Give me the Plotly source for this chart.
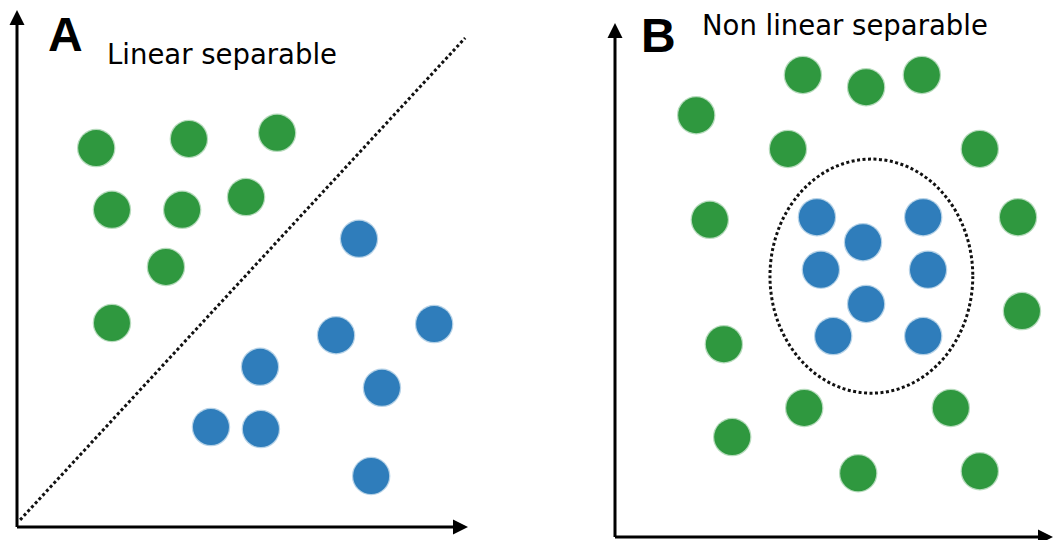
import plotly.graph_objects as go

W, H = 1054, 540

# ---------------- data (panel units 0..10) ----------------
# Panel A - linear separable
a_green_x = [1.76, 3.82, 5.78, 2.11, 3.67, 5.09, 3.31, 2.11]
a_green_y = [7.43, 7.61, 7.73, 6.22, 6.22, 6.47, 5.10, 4.00]
a_blue_x = [7.60, 7.09, 9.27, 5.40, 8.11, 4.31, 5.42, 7.87]
a_blue_y = [5.65, 3.76, 3.98, 3.14, 2.73, 1.96, 1.92, 1.00]
a_sep_x = [0.07, 9.96]
a_sep_y = [0.14, 9.59]

# Panel B - non linear separable
b_green_x = [4.28, 5.72, 6.99, 1.85, 3.94, 8.31, 2.16, 9.18, 9.27, 2.48, 4.31, 7.65, 2.67, 5.54, 8.31]
b_green_y = [9.06, 8.82, 9.06, 8.27, 7.61, 7.61, 6.22, 6.27, 4.43, 3.78, 2.53, 2.53, 1.96, 1.25, 1.29]
b_blue_x = [4.60, 7.02, 5.65, 4.69, 7.13, 5.72, 4.97, 7.02]
b_blue_y = [6.27, 6.27, 5.78, 5.24, 5.24, 4.57, 3.94, 3.94]
b_boundary_x = [3.53, 8.15]   # ellipse x extent
b_boundary_y = [2.82, 7.41]   # ellipse y extent

title_a = ("A", "Linear separable")
title_b = ("B", "Non linear separable")

GREEN = "#2f983f"
BLUE = "#2f7dbb"
GREEN_HALO = "rgba(47,152,63,0.35)"
BLUE_HALO = "rgba(47,125,187,0.35)"

# ---------------- layout geometry (pixels) ----------------
A_left, A_right, A_bottom, A_top = 17, 467, 527, 17
B_left, B_right, B_bottom, B_top = 615, 1054, 537, 27


def dom_x(l, r):
    return [l / W, r / W]


def dom_y(b, t):
    return [1 - b / H, 1 - t / H]


fig = go.Figure()

fig.add_trace(go.Scatter(x=a_sep_x, y=a_sep_y, mode="lines",
                         line=dict(color="#111111", width=3, dash="3px,2.5px"),
                         xaxis="x", yaxis="y", hoverinfo="skip", showlegend=False))
fig.add_trace(go.Scatter(x=a_green_x, y=a_green_y, mode="markers",
                         marker=dict(size=36, color=GREEN, line=dict(width=2.5, color=GREEN_HALO)),
                         xaxis="x", yaxis="y", showlegend=False, cliponaxis=False))
fig.add_trace(go.Scatter(x=a_blue_x, y=a_blue_y, mode="markers",
                         marker=dict(size=36, color=BLUE, line=dict(width=2.5, color=BLUE_HALO)),
                         xaxis="x", yaxis="y", showlegend=False, cliponaxis=False))

fig.add_trace(go.Scatter(x=b_green_x, y=b_green_y, mode="markers",
                         marker=dict(size=36, color=GREEN, line=dict(width=2.5, color=GREEN_HALO)),
                         xaxis="x2", yaxis="y2", showlegend=False, cliponaxis=False))
fig.add_trace(go.Scatter(x=b_blue_x, y=b_blue_y, mode="markers",
                         marker=dict(size=36, color=BLUE, line=dict(width=2.5, color=BLUE_HALO)),
                         xaxis="x2", yaxis="y2", showlegend=False, cliponaxis=False))

fig.add_shape(type="circle", xref="x2", yref="y2",
              x0=b_boundary_x[0], x1=b_boundary_x[1],
              y0=b_boundary_y[0], y1=b_boundary_y[1],
              line=dict(color="#111111", width=3, dash="3px,2.5px"), layer="below")


# axes arrows
def arrow(head_px, tail_px):
    hx, hy = head_px
    tx, ty = tail_px
    fig.add_annotation(x=hx / W, y=1 - hy / H, xref="paper", yref="paper",
                       ax=tx - hx, ay=ty - hy, axref="pixel", ayref="pixel",
                       text="", showarrow=True, arrowhead=2, arrowsize=1,
                       arrowwidth=3, arrowcolor="#000000", standoff=0, startstandoff=0)


arrow((A_left, 10), (A_left, A_bottom + 1.5))
arrow((A_right + 1, A_bottom), (A_left - 1.5, A_bottom))
arrow((B_left, 23), (B_left, B_bottom + 1.5))
arrow((B_right + 6, B_bottom), (B_left - 1.5, B_bottom))


# titles
def label(text, x_px, y_px, size, family, bold=False):
    fig.add_annotation(x=x_px / W, y=1 - y_px / H, xref="paper", yref="paper",
                       text=f"<b>{text}</b>" if bold else text, showarrow=False,
                       xanchor="left", yanchor="middle",
                       font=dict(size=size, family=family, color="#000000"))


label(title_a[0], 46, 35, 48, "Liberation Sans Narrow, Liberation Sans, Arial", True)
label(title_a[1], 105, 54, 27.5, "DejaVu Sans, Verdana, sans-serif")
label(title_b[0], 639, 36, 48, "Liberation Sans Narrow, Liberation Sans, Arial", True)
label(title_b[1], 700, 25, 27.5, "DejaVu Sans, Verdana, sans-serif")

hidden = dict(visible=False, showgrid=False, zeroline=False, fixedrange=True)
fig.update_layout(
    width=W, height=H,
    margin=dict(l=0, r=0, t=0, b=0),
    paper_bgcolor="white", plot_bgcolor="white",
    xaxis=dict(domain=dom_x(A_left, A_right), range=[0, 10], **hidden),
    yaxis=dict(domain=dom_y(A_bottom, A_top), range=[0, 10], **hidden),
    xaxis2=dict(domain=dom_x(B_left, B_right), range=[0, 10], anchor="y2", **hidden),
    yaxis2=dict(domain=dom_y(B_bottom, B_top), range=[0, 10], anchor="x2", **hidden),
    showlegend=False,
)

fig.write_html("out.html", config={"displayModeBar": False},
               post_script="document.body.style.margin='0';document.body.style.overflow='hidden';")
